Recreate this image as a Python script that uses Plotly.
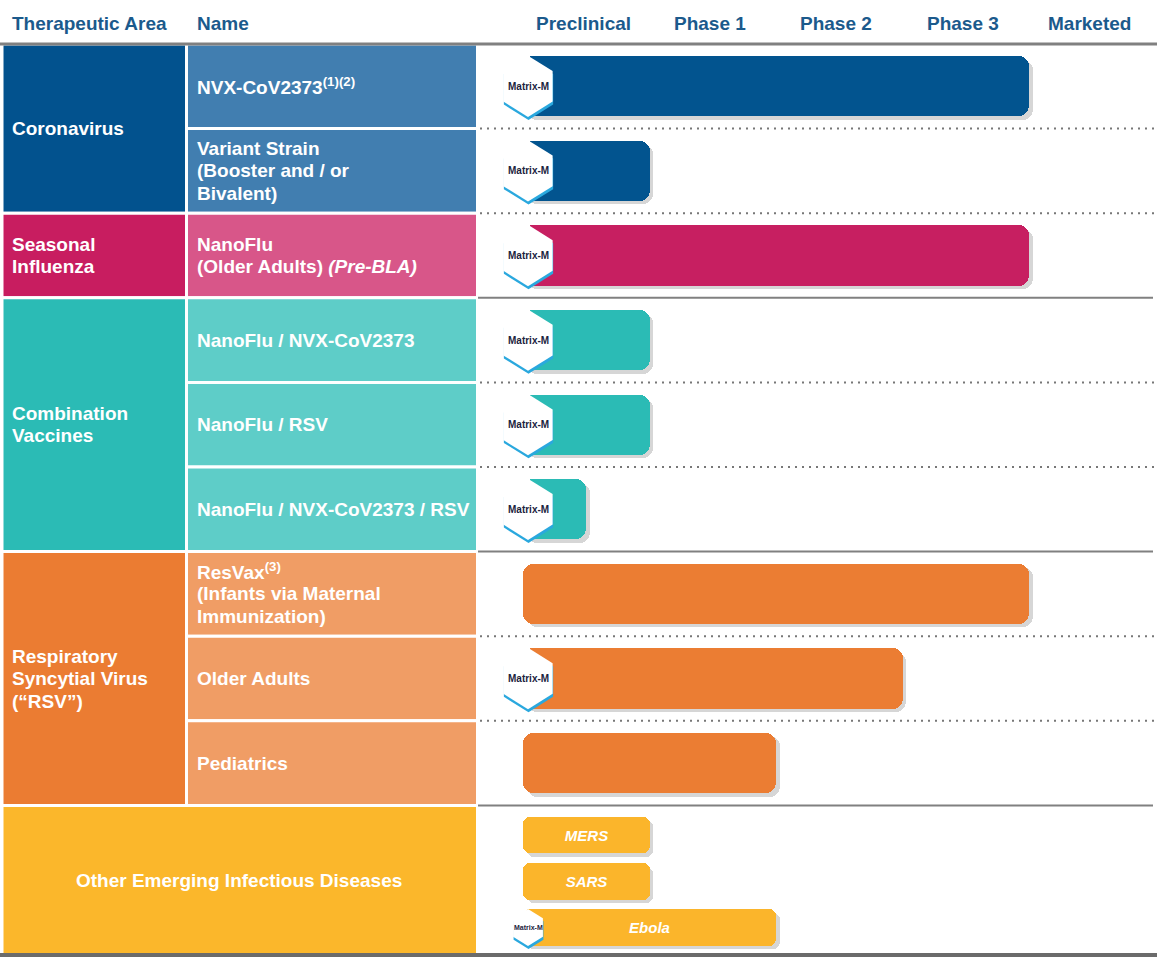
import plotly.graph_objects as go

# ---------------- data ----------------
stages = ["Preclinical", "Phase 1", "Phase 2", "Phase 3", "Marketed"]

areas = ["Coronavirus", "Seasonal<br>Influenza", "Combination<br>Vaccines",
         "Respiratory<br>Syncytial Virus<br>(“RSV”)", "Other Emerging Infectious Diseases"]
area_colors = ["#02528e", "#c81d60", "#2bbbb5", "#eb7c32", "#fbb72b"]
name_colors = ["#417eb0", "#d85689", "#5ecdc8", "#f09d65", "#fbb72b"]
bar_colors = ["#02548f", "#c71f61", "#2bbbb5", "#eb7d33", "#fbb52b"]

program_names = [
    "NVX-CoV2373<sup>(1)(2)</sup>",
    "Variant Strain<br>(Booster and / or<br>Bivalent)",
    "NanoFlu<br>(Older Adults) <i>(Pre-BLA)</i>",
    "NanoFlu / NVX-CoV2373",
    "NanoFlu / RSV",
    "NanoFlu / NVX-CoV2373 / RSV",
    "ResVax<sup>(3)</sup><br>(Infants via Maternal<br>Immunization)",
    "Older Adults",
    "Pediatrics",
]
program_area = [0, 0, 1, 2, 2, 2, 3, 3, 3]
program_progress = [4.0, 1.0, 4.0, 1.0, 1.0, 0.5, 4.0, 3.0, 2.0]
program_matrix_m = [True, True, True, True, True, True, False, True, False]

other_names = ["MERS", "SARS", "Ebola"]
other_progress = [1.0, 1.0, 2.0]
other_matrix_m = [False, False, True]

# ---------------- layout constants ----------------
W, H = 1157, 960
TOP = 44.0      # px of header line
ROW = 84.6      # px per program row
X0 = 523.0      # px of stage origin
UNIT = 126.5    # px per stage
FONT = "Liberation Sans, Arial, sans-serif"
FSIZE = 19
LINE_PX = 22.5
HEAD_COLOR = "#1b5a8c"
GRAY = "#808080"


def px(x):
    return x / W


def yrow(ypx):
    return (ypx - TOP) / ROW


n_main = len(program_names)
other_top = float(n_main)
other_bottom = yrow(955)
main_w = 0.71
other_w = 0.43
other_y = [other_top + 0.08 + (j + 0.5) * 0.545 for j in range(len(other_names))]
main_y = [i + 0.5 for i in range(n_main)]

fig = go.Figure()

# shadows
fig.add_trace(go.Bar(
    orientation="h", y=[v + 0.04 for v in main_y], x=program_progress, base=0.03,
    width=main_w, marker=dict(color="rgba(0,0,0,0.16)", cornerradius=10, line_width=0),
    textposition="none", hoverinfo="skip"))
fig.add_trace(go.Bar(
    orientation="h", y=[v + 0.04 for v in other_y], x=other_progress, base=0.03,
    width=other_w, marker=dict(color="rgba(0,0,0,0.16)", cornerradius=7, line_width=0),
    textposition="none", hoverinfo="skip"))
# main bars
fig.add_trace(go.Bar(
    orientation="h", y=main_y, x=program_progress, base=0, width=main_w,
    marker=dict(color=[bar_colors[a] for a in program_area], cornerradius=10, line_width=0),
    textposition="none", hoverinfo="skip"))
# other bars
fig.add_trace(go.Bar(
    orientation="h", y=other_y, x=other_progress, base=0, width=other_w,
    marker=dict(color=bar_colors[4], cornerradius=7, line_width=0),
    text=["<b><i>%s</i></b>" % n for n in other_names], textposition="inside",
    insidetextanchor="middle", textfont=dict(family=FONT, size=15, color="white"),
    hoverinfo="skip"))

shapes = []
annotations = []


def add_label(xp, yc, text, anchor="left", color="white"):
    lines = text.split("<br>")
    n = len(lines)
    for k, ln in enumerate(lines):
        yy = yc + (k - (n - 1) / 2) * LINE_PX / ROW
        annotations.append(dict(xref="paper", yref="y", x=px(xp), y=yy,
                                xanchor=anchor, yanchor="middle", align=anchor,
                                showarrow=False, text=ln,
                                font=dict(family=FONT, size=FSIZE, color=color,
                                          weight="bold")))


# ---- table cells ----
start = 0.0
for a, name in enumerate(areas[:4]):
    cnt = program_area.count(a)
    shapes.append(dict(type="rect", xref="paper", yref="y", x0=px(2), x1=px(186.5),
                       y0=start, y1=start + cnt, fillcolor=area_colors[a],
                       line=dict(color="white", width=3), layer="below"))
    add_label(10, start + cnt / 2, name)
    start += cnt

for i, nm in enumerate(program_names):
    a = program_area[i]
    shapes.append(dict(type="rect", xref="paper", yref="y", x0=px(186.5), x1=px(477.5),
                       y0=i, y1=i + 1, fillcolor=name_colors[a],
                       line=dict(color="white", width=3), layer="below"))
    add_label(195, i + 0.5, nm)

shapes.append(dict(type="rect", xref="paper", yref="y", x0=px(2), x1=px(477.5),
                   y0=other_top, y1=other_bottom, fillcolor=area_colors[4],
                   line=dict(color="white", width=3), layer="below"))
add_label(239, (other_top + other_bottom) / 2, areas[4], anchor="center")

# ---- separators ----
section_ends = []
c = 0
for a in range(4):
    c += program_area.count(a)
    section_ends.append(c)
for r in range(1, n_main + 1):
    if r in section_ends[1:]:
        shapes.append(dict(type="line", xref="paper", yref="y", x0=px(478), x1=px(1153),
                           y0=r, y1=r, line=dict(color=GRAY, width=2)))
    else:
        shapes.append(dict(type="line", xref="paper", yref="y", x0=px(480), x1=1,
                           y0=r, y1=r, line=dict(color="#777777", width=2, dash="2px,5px")))
shapes.append(dict(type="line", xref="paper", yref="y", x0=0, x1=1, y0=0, y1=0,
                   line=dict(color=GRAY, width=3)))
shapes.append(dict(type="line", xref="paper", yref="y", x0=0, x1=1, y0=other_bottom,
                   y1=other_bottom, line=dict(color="#6b6b6b", width=4)))

# ---- Matrix-M hexagons ----
CYAN = "#2aa8de"


def hexagon(cx, cy, hw, hh, dy=0.0, dx=0.0):
    cx += dx
    cy += dy
    pts = [(cx, cy - hh), (cx + hw, cy - hh / 2), (cx + hw, cy + hh / 2),
           (cx, cy + hh), (cx - hw, cy + hh / 2), (cx - hw, cy - hh / 2)]
    return "M " + " L ".join("%.4f,%.4f" % p for p in pts) + " Z"


def add_badge(cy, bw, fsize):
    hpx = bw * ROW
    hw = 0.41 * hpx / UNIT
    hh = bw / 2 * 1.02
    cx = (528 - X0) / UNIT
    shapes.append(dict(type="path", xref="x", yref="y",
                       path=hexagon(cx, cy, hw, hh, dy=3 / ROW, dx=0.5 / UNIT),
                       fillcolor=CYAN, line=dict(width=0)))
    shapes.append(dict(type="path", xref="x", yref="y", path=hexagon(cx, cy, hw, hh),
                       fillcolor="white", line=dict(width=0)))
    annotations.append(dict(xref="x", yref="y", x=cx, y=cy, showarrow=False,
                            xanchor="center", yanchor="middle", text="Matrix-M",
                            font=dict(family="Liberation Sans Narrow, Arial Narrow, " + FONT,
                                      size=fsize, color="#1b2340", weight="bold")))


for i, m in enumerate(program_matrix_m):
    if m:
        add_badge(main_y[i], main_w, 10)
for j, m in enumerate(other_matrix_m):
    if m:
        add_badge(other_y[j], other_w, 7)

# ---- headers ----
add_label(10, yrow(23), "Therapeutic Area", color=HEAD_COLOR)
add_label(195, yrow(23), "Name", color=HEAD_COLOR)
for k, s in enumerate(stages):
    annotations.append(dict(xref="x", yref="y", x=k + 0.475, y=yrow(23), xanchor="center",
                            yanchor="middle", showarrow=False, text=s,
                            font=dict(family=FONT, size=FSIZE, color=HEAD_COLOR, weight="bold")))

fig.update_layout(
    width=W, height=H, margin=dict(l=0, r=0, t=0, b=0),
    paper_bgcolor="white", plot_bgcolor="white", showlegend=False,
    barmode="overlay", bargap=0,
    xaxis=dict(range=[-X0 / UNIT, (W - X0) / UNIT], visible=False, fixedrange=True),
    yaxis=dict(range=[(H - TOP) / ROW, -TOP / ROW], visible=False, fixedrange=True),
    shapes=shapes, annotations=annotations,
)

fig.write_html("out.html", config={"displayModeBar": False},
               post_script="document.body.style.margin='0';document.body.style.overflow='hidden';")
